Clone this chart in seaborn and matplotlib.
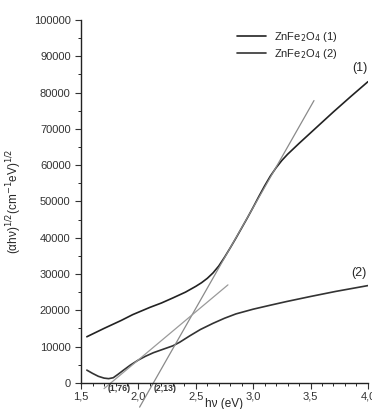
import pandas as pd
import matplotlib.pyplot as plt
import seaborn as sns

# curve (1)
x1 = [1.55, 1.70, 1.85, 1.95, 2.10, 2.20, 2.30, 2.41, 2.50, 2.55, 2.60, 2.65, 2.70, 2.75,
      2.80, 2.85, 2.90, 2.95, 3.00, 3.05, 3.10, 3.15, 3.20, 3.25, 3.30, 3.40, 3.50,
      3.60, 3.70, 3.85, 4.00]
y1 = [12700, 15000, 17200, 18800, 20800, 22000, 23400, 25000, 26600, 27600, 28800, 30300,
      32200, 34600, 37200, 39900, 42700, 45500, 48400, 51400, 54300, 57000, 59300, 61300,
      63000, 66000, 68900, 71800, 74700, 78900, 83000]

# curve (2)
x2 = [1.55, 1.60, 1.65, 1.70, 1.74, 1.78, 1.82, 1.87, 1.93, 2.00, 2.06, 2.13, 2.21, 2.30,
      2.36, 2.45, 2.54, 2.65, 2.75, 2.85, 3.00, 3.15, 3.29, 3.50, 3.72, 4.00]
y2 = [3500, 2600, 1800, 1300, 1150, 1400, 2300, 3500, 4900, 6300, 7300, 8300, 9200, 10200,
      11200, 13000, 14700, 16400, 17800, 19000, 20300, 21400, 22400, 23800, 25200, 26800]

# tangent fits
t1_x = [2.01, 3.53]
t1_y = [-6700, 77800]
t2_x = [1.70, 2.78]
t2_y = [-1600, 27000]

gaps = ['(1,76)', '(2,13)']
gap_x = [1.83, 2.23]

labels = ['ZnFe$_2$O$_4$ (1)', 'ZnFe$_2$O$_4$ (2)']

df = pd.concat([
    pd.DataFrame({'hv': x1, 'val': y1, 'sample': labels[0]}),
    pd.DataFrame({'hv': x2, 'val': y2, 'sample': labels[1]}),
])

sns.set_style('ticks')
plt.rcParams['font.family'] = ['Liberation Sans', 'DejaVu Sans']

fig = plt.figure(figsize=(3.72, 4.09), dpi=100)
ax = fig.add_axes([0.218, 0.064, 0.771, 0.887])

sns.lineplot(data=df, x='hv', y='val', hue='sample', palette=['#222222', '#333333'],
             linewidth=1.2, ax=ax, sort=False)
n_curves = len(ax.lines)
sns.lineplot(x=t1_x, y=t1_y, color='#8a8a8a', linewidth=0.9, ax=ax, legend=False)
sns.lineplot(x=t2_x, y=t2_y, color='#9a9a9a', linewidth=0.9, ax=ax, legend=False)
for ln in ax.lines[n_curves:]:
    ln.set_clip_on(False)

ax.set_xlim(1.5, 4.0)
ax.set_ylim(0, 100000)
ax.set_xticks([1.5, 2.0, 2.5, 3.0, 3.5, 4.0])
ax.set_xticklabels(['1,5', '2,0', '2,5', '3,0', '3,5', '4,0'])
ax.set_xticks([1.5 + 0.1 * i for i in range(26)], minor=True)
ax.set_yticks(range(0, 100001, 10000))
ax.set_yticks(range(0, 100001, 5000), minor=True)
ax.tick_params(labelsize=8, colors='#333333', length=4, width=0.8)
ax.tick_params(which='minor', length=2.5, width=0.7)
ax.tick_params(axis='x', pad=2)
sns.despine(ax=ax)
for s in ['left', 'bottom']:
    ax.spines[s].set_linewidth(1.0)
    ax.spines[s].set_color('#222222')

ax.set_xlabel('hν (eV)', fontsize=8.5, labelpad=-2)
ax.set_ylabel('(αhν)$^{1/2}$(cm$^{-1}$eV)$^{1/2}$', fontsize=8.5, labelpad=7)

for g, gx in zip(gaps, gap_x):
    ax.text(gx, -1500, g, fontsize=6.3, fontweight='bold', ha='center', va='center',
            color='#333333')
ax.text(3.93, 86700, '(1)', fontsize=9, ha='center', va='center')
ax.text(3.92, 30400, '(2)', fontsize=9, ha='center', va='center')

ax.legend(loc='upper right', bbox_to_anchor=(0.93, 1.0), frameon=False, fontsize=8,
          handlelength=2.6, labelspacing=0.3, title=None)

fig.savefig('out.png', dpi=100)
